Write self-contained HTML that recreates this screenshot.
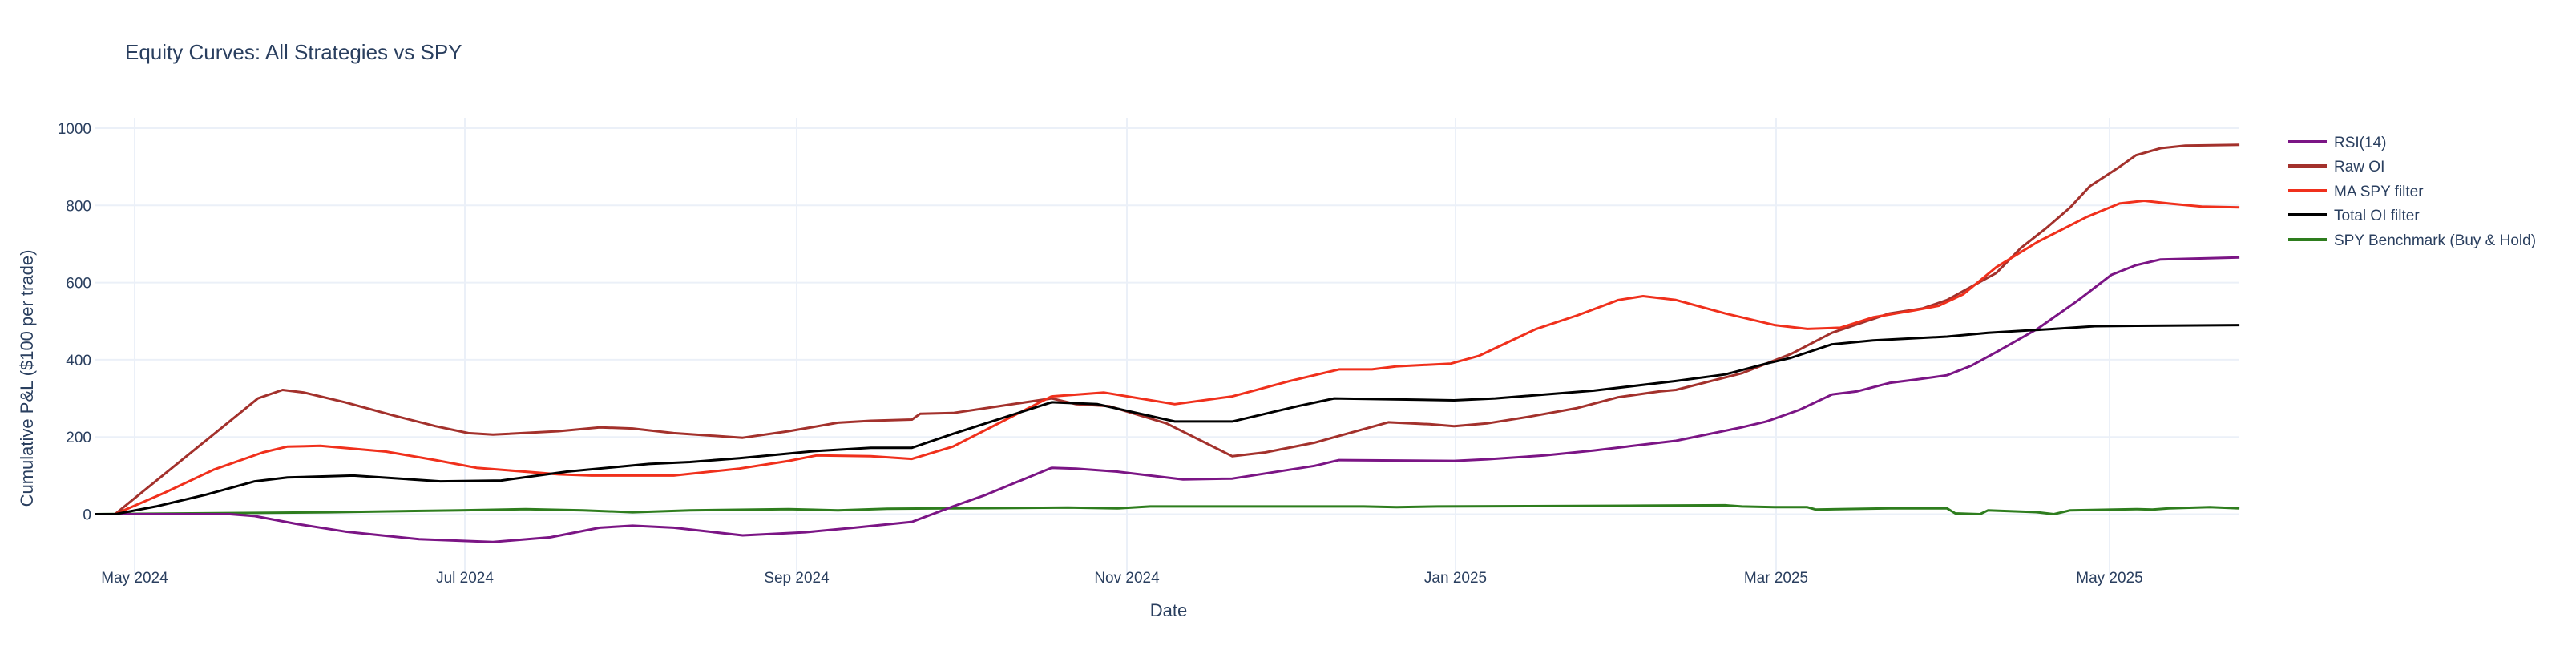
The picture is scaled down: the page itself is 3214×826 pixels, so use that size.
<!DOCTYPE html>
<html><head><meta charset="utf-8"><style>
html,body{margin:0;padding:0;background:#fff;}
svg{display:block;font-family:"Liberation Sans","DejaVu Sans",sans-serif;}
</style></head><body>
<svg id="s" width="3214" height="826" viewBox="0 0 3214 826" xmlns="http://www.w3.org/2000/svg">
<rect width="3214" height="826" fill="#fff"/>
<text x="156" y="74" font-size="26" fill="#2a3f5f">Equity Curves: All Strategies vs SPY</text>
<g id="grid" stroke="#ebf0f8" stroke-width="2"></g>
<g id="lab" fill="#2a3f5f" font-size="19"></g>
<text x="1458" y="769" font-size="22" fill="#2a3f5f" text-anchor="middle">Date</text>
<text transform="translate(41,472) rotate(-90)" font-size="22" fill="#2a3f5f" text-anchor="middle">Cumulative P&amp;L ($100 per trade)</text>
<g id="series" fill="none" stroke-width="3" stroke-linejoin="round"></g>
<g font-size="19" fill="#2a3f5f">
<line x1="2855" y1="177" x2="2903" y2="177" stroke="#7b1585" stroke-width="4"/><text x="2912" y="184">RSI(14)</text>
<line x1="2855" y1="207" x2="2903" y2="207" stroke="#a3312c" stroke-width="4"/><text x="2912" y="214">Raw OI</text>
<line x1="2855" y1="238" x2="2903" y2="238" stroke="#f0301c" stroke-width="4"/><text x="2912" y="245">MA SPY filter</text>
<line x1="2855" y1="268" x2="2903" y2="268" stroke="#000" stroke-width="4"/><text x="2912" y="275">Total OI filter</text>
<line x1="2855" y1="299" x2="2903" y2="299" stroke="#2e7d1e" stroke-width="4"/><text x="2912" y="306">SPY Benchmark (Buy &amp; Hold)</text>
</g>
</svg>
<script>
var NS="http://www.w3.org/2000/svg";
function el(p,t,a,txt){var e=document.createElementNS(NS,t);for(var k in a)e.setAttribute(k,a[k]);if(txt)e.textContent=txt;document.getElementById(p).appendChild(e);}
var L=119,R=2794,T=147,B=722;
function Y(v){return 641.5-v*0.4815;}
[0,200,400,600,800,1000].forEach(function(v){el("grid","line",{x1:L,x2:R,y1:Y(v),y2:Y(v)});el("lab","text",{x:114,y:Y(v)+7,"text-anchor":"end"},""+v);});
[[168,"May 2024"],[580,"Jul 2024"],[994,"Sep 2024"],[1406,"Nov 2024"],[1816,"Jan 2025"],[2216,"Mar 2025"],[2632,"May 2025"]].forEach(function(t){el("grid","line",{x1:t[0],x2:t[0],y1:T,y2:B});el("lab","text",{x:t[0],y:727,"text-anchor":"middle"},t[1]);});
var S={
"#2e7d1e":[[58,0],[200,5],[280,10],[320,13],[355,10],[385,5],[420,10],[480,13],[510,10],[540,14],[650,17],[680,15],[700,20],[760,20],[830,20],[850,18],[875,20],[1000,22],[1050,23],[1060,20],[1080,18],[1100,18],[1105,12],[1150,15],[1185,15],[1190,2],[1205,0],[1210,10],[1240,5],[1250,0],[1260,10],[1300,13],[1310,12],[1320,15],[1345,18],[1363,15]],
"#7b1585":[[58,0],[70,0],[140,0],[155,-5],[180,-25],[210,-45],[255,-65],[300,-72],[335,-60],[365,-35],[385,-30],[410,-35],[452,-55],[490,-47],[520,-35],[555,-20],[580,20],[600,50],[640,120],[655,118],[680,110],[720,90],[750,92],[800,125],[815,140],[885,138],[905,142],[940,152],[970,165],[990,175],[1020,190],[1060,225],[1075,240],[1095,270],[1115,310],[1130,318],[1150,340],[1165,348],[1185,360],[1200,385],[1215,420],[1240,480],[1265,555],[1285,620],[1300,645],[1315,660],[1363,665]],
"#a3312c":[[58,0],[70,0],[157,300],[172,322],[185,315],[210,290],[240,255],[265,228],[285,210],[300,206],[340,215],[365,225],[385,222],[410,210],[452,198],[480,215],[510,237],[530,242],[555,245],[560,260],[580,262],[640,300],[655,285],[675,280],[710,235],[750,150],[770,160],[800,185],[845,238],[870,233],[885,228],[905,235],[930,252],[960,275],[985,303],[1010,318],[1020,322],[1060,365],[1090,415],[1115,470],[1150,520],[1170,533],[1185,555],[1200,590],[1215,625],[1230,690],[1245,740],[1260,795],[1272,850],[1290,900],[1300,930],[1315,948],[1330,955],[1363,957]],
"#f0301c":[[58,0],[70,0],[100,55],[130,115],[160,160],[175,175],[195,177],[235,162],[265,140],[290,120],[340,103],[360,100],[410,100],[450,118],[480,138],[497,152],[530,150],[555,143],[580,175],[640,305],[672,315],[715,285],[750,305],[785,345],[815,375],[835,375],[850,383],[883,390],[900,410],[935,480],[960,515],[985,555],[1000,565],[1020,555],[1050,520],[1080,490],[1100,480],[1120,483],[1140,510],[1165,528],[1180,540],[1195,570],[1215,640],[1240,705],[1270,770],[1290,805],[1305,812],[1320,805],[1340,797],[1363,795]],
"#000000":[[58,0],[70,0],[95,20],[125,50],[155,85],[175,95],[215,100],[268,85],[305,87],[345,110],[395,130],[420,135],[450,145],[495,163],[530,172],[555,172],[580,208],[640,290],[668,285],[715,240],[750,240],[790,280],[812,300],[885,295],[910,300],[970,320],[1020,345],[1050,362],[1075,390],[1090,405],[1115,440],[1140,450],[1185,460],[1210,470],[1250,480],[1275,487],[1300,488],[1363,490]]};
["#2e7d1e","#7b1585","#a3312c","#f0301c","#000000"].forEach(function(c){
var d=S[c].map(function(p,i){return (i?"L":"M")+(p[0]*2.05).toFixed(1)+","+Y(p[1]).toFixed(1);}).join("");
el("series","path",{d:d,stroke:c});});
</script>
</body></html>
